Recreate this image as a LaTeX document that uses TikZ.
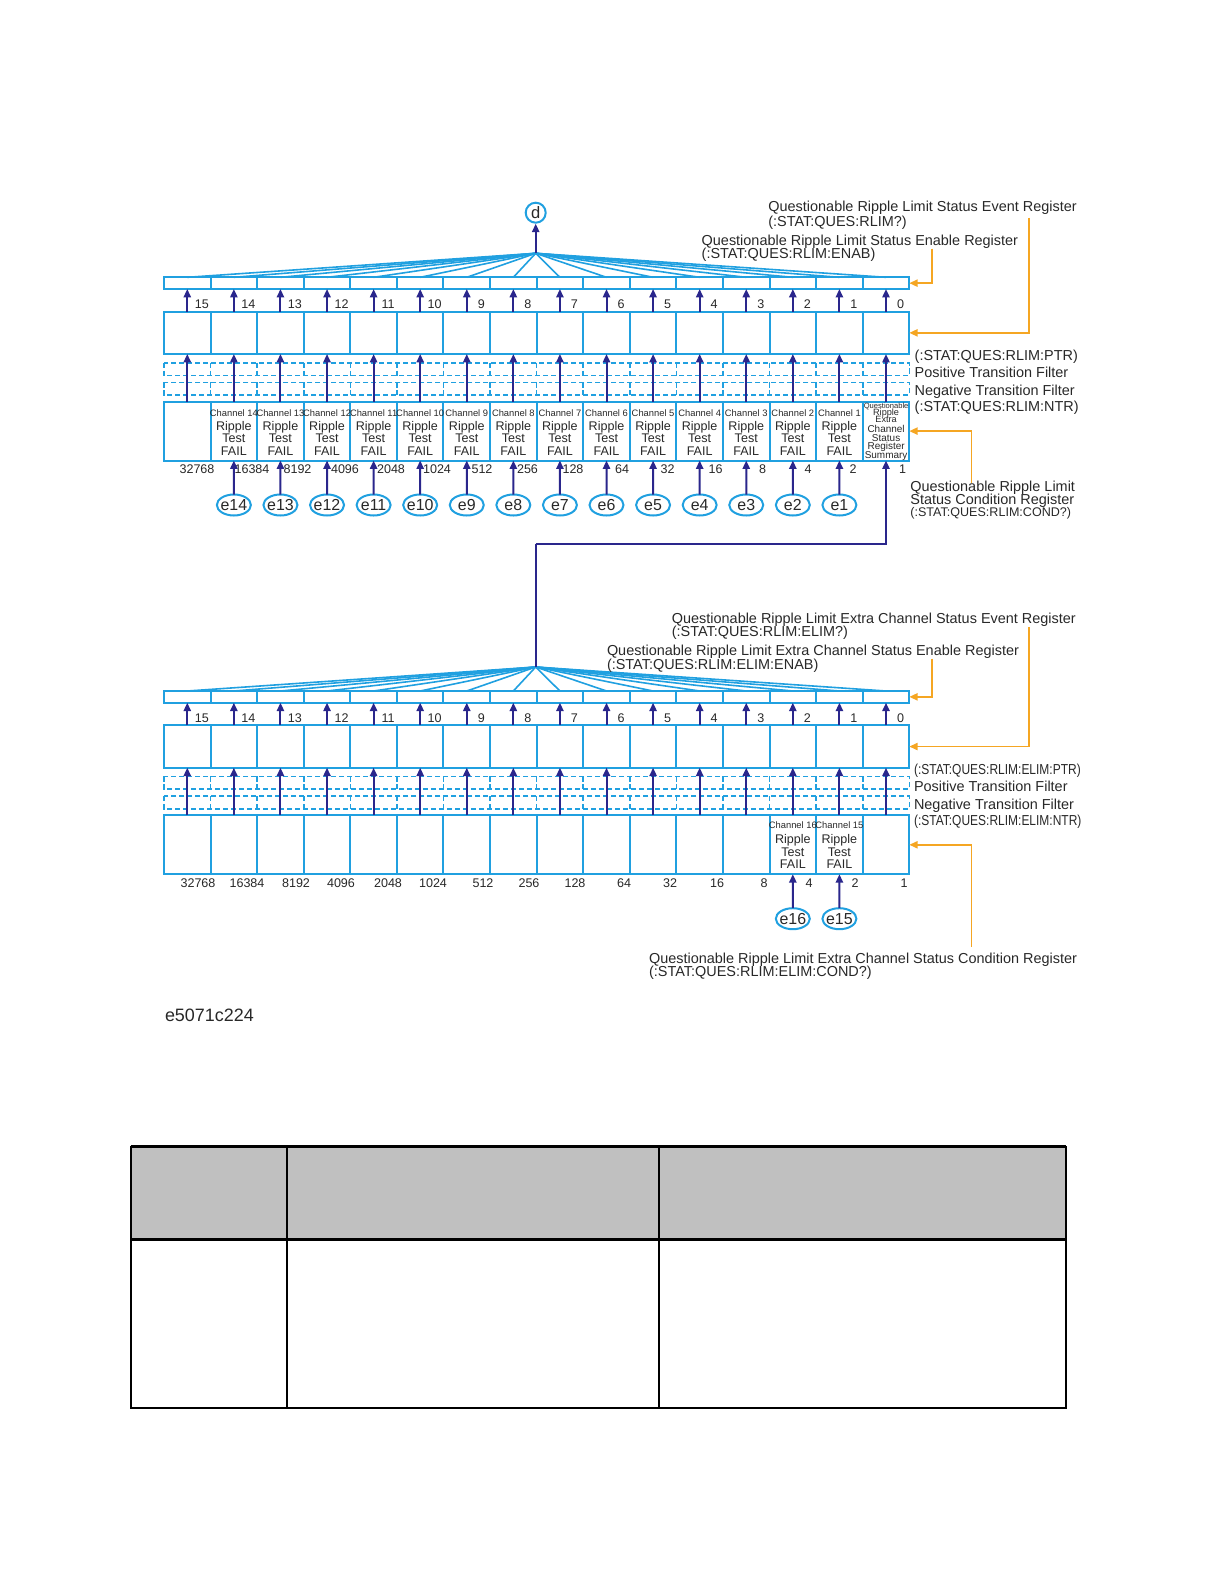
\documentclass[tikz,border=0pt]{standalone}
\usepackage{fontspec}
\setmainfont{Liberation Sans}
\usetikzlibrary{arrows.meta,shapes.geometric}
\definecolor{regblue}{RGB}{32,160,224}
\definecolor{navy}{RGB}{42,38,140}
\definecolor{orng}{RGB}{245,166,35}
\definecolor{txtc}{RGB}{40,40,40}
\definecolor{hdrgray}{RGB}{192,192,192}
\tikzset{
  cell/.style={draw=regblue, line width=1bp, minimum width=23.29bp, minimum height=#1, anchor=north west, inner sep=0pt, outer sep=0pt},
  dashrow/.style={draw=regblue, line width=0.8bp, dash pattern=on 2.6bp off 1.4bp},
  fan/.style={draw=regblue, line width=0.8bp},
  upar/.style={draw=navy, line width=1bp, -{Triangle[length=4.2bp,width=3.6bp]}},
  navyline/.style={draw=navy, line width=1bp},
  orar/.style={draw=orng, line width=0.9bp, -{Triangle[length=4.2bp,width=3.6bp]}},
  reglabel/.style={font=\fontsize{7.25}{7.25}\selectfont, text height=5.2bp, text depth=0pt, anchor=west, inner sep=0pt, text=txtc},
  smalllabel/.style={font=\fontsize{6.3}{6.3}\selectfont, text height=4.5bp, text depth=0pt, inner sep=0pt, text=txtc},
  chanlabel/.style={font=\fontsize{4.7}{4.7}\selectfont, text height=3.4bp, text depth=0pt, inner sep=0pt, text=txtc},
  sumlabel/.style={font=\fontsize{#1}{#1}\selectfont, text height=3bp, text depth=0pt, inner sep=0pt, text=txtc},
  eoval/.style={ellipse, draw=regblue, line width=1bp, minimum width=17bp, minimum height=10.5bp, inner sep=0pt, outer sep=0pt},
  elabel/.style={font=\fontsize{8}{8}\selectfont, text height=5.8bp, text depth=0pt, inner sep=0pt, text=txtc},
}
\newcommand{\regdiagram}[2]{%
  \coordinate (#1-apex) at (535.7,{253.3+#2});
  \draw[dashrow] (164,{362.7+#2}) rectangle (909.3,{375.5+#2});
  \draw[dashrow] (164,{382.3+#2}) rectangle (909.3,{395.2+#2});
  \foreach \i in {1,...,15}{
    \pgfmathsetmacro{\xl}{164+46.58*\i}
    \draw[dashrow] (\xl,{362.7+#2}) -- (\xl,{375.5+#2});
    \draw[dashrow] (\xl,{382.3+#2}) -- (\xl,{395.2+#2});
  }
  \foreach \i in {0,...,15}{
    \pgfmathsetmacro{\xl}{164+46.58*\i}
    \pgfmathtruncatemacro{\bit}{15-\i}
    \node[cell=5.85bp] (#1-en-\i) at (\xl,{277.3+#2}) {};
    \node[cell=21.15bp] (#1-ev-\i) at (\xl,{311.7+#2}) {};
    \node[cell=29.4bp] (#1-co-\i) at (\xl,{401.7+#2}) {};
    \node[smalllabel] (#1-bit-\i) at ({\xl+23.29+14.5},{304+#2}) {\bit};
  }
  \foreach \i in {0,...,15}{
    \draw[fan] (#1-apex) -- (#1-en-\i.north);
    \draw[upar] (#1-ev-\i.north) -- (#1-en-\i.south);
    \draw[upar] (#1-co-\i.north) -- (#1-ev-\i.south);
  }
}
\begin{document}
\begin{tikzpicture}[x=0.5bp,y=-0.5bp]
\useasboundingbox (0,0) rectangle (1224,1584);

% ---------- upper register set ----------
\regdiagram{U}{0}
\node[circle, draw=regblue, line width=1bp, minimum size=10bp, inner sep=0pt,
      font=\fontsize{8.3}{8.3}\selectfont, text=txtc] (d) at (535.7,212.7) {d};
\draw[upar] (U-apex) -- (d.south);

% channel texts upper
\foreach \i in {1,...,14}{
  \pgfmathsetmacro{\xc}{164+46.58*\i+23.29}
  \pgfmathtruncatemacro{\ch}{15-\i}
  \node[chanlabel] (U-ch-\i) at (\xc,413.3) {Channel \ch};
  \node[smalllabel] (U-rp-\i) at (\xc,425.7) {Ripple};
  \node[smalllabel] (U-ts-\i) at (\xc,438.3) {Test};
  \node[smalllabel] (U-fl-\i) at (\xc,451) {FAIL};
}
% summary cell
\foreach \t/\yy/\fs [count=\n] in {Questionable/405.7/3.8, Ripple/412.7/4.6, Extra/419.5/4.6, Channel/429.5/5, Status/438.5/5, Register/446.5/5, Summary/455/5}{
  \node[sumlabel=\fs] (U-sum-\n) at (886.1,\yy) {\t};
}
% values upper
\foreach \v/\vx [count=\n] in {32768/197, 16384/252, 8192/297.5, 4096/345, 2048/391, 1024/437, 512/482, 256/527.5, 128/573, 64/622, 32/667.5, 16/715.5, 8/762.7, 4/808, 2/853, 1/902.5}{
  \node[smalllabel] (U-val-\n) at (\vx,469) {\v};
}
% event ellipses upper
\foreach \k in {1,...,14}{
  \pgfmathtruncatemacro{\ii}{15-\k}
  \pgfmathsetmacro{\xc}{164+46.58*\ii+23.29}
  \node[eoval] (e\k) at (\xc,505) {};
  \node[elabel] (e\k-t) at (e\k) {e\k};
  \draw[upar] (e\k.north) -- (U-co-\ii.south);
}

% labels upper
\node[reglabel] (U-evt1) at (768,206.7) {Questionable Ripple Limit Status Event Register};
\node[reglabel] (U-evt2) at (768,221.2) {(:STAT:QUES:RLIM?)};
\node[reglabel] (U-ent1) at (701.3,240) {Questionable Ripple Limit Status Enable Register};
\node[reglabel] (U-ent2) at (701.3,253.3) {(:STAT:QUES:RLIM:ENAB)};
\node[reglabel] (U-ptr) at (914.3,355) {(:STAT:QUES:RLIM:PTR)};
\node[reglabel] (U-pos) at (914.3,372.3) {Positive Transition Filter};
\node[reglabel] (U-neg) at (914.3,390.7) {Negative Transition Filter};
\node[reglabel] (U-ntr) at (914.3,406.7) {(:STAT:QUES:RLIM:NTR)};
\node[reglabel] (U-cot1) at (910,486.7) {Questionable Ripple Limit};
\node[reglabel] (U-cot2) at (910,498.8) {Status Condition Register};
\node[smalllabel, anchor=west] (U-cot3) at (910,511.7) {(:STAT:QUES:RLIM:COND?)};

% orange connectors upper
\coordinate (U-evsrc) at (1029.3,217.5);
\coordinate (U-ensrc) at (931.8,248.5);
\coordinate (U-cosrc) at (971.5,483);
\draw[orar] (U-evsrc) |- (U-ev-15.east);
\draw[orar] (U-ensrc) |- (U-en-15.east);
\draw[orar] (U-cosrc) |- (U-co-15.east);

% ---------- lower register set ----------
\regdiagram{L}{413.7}
\foreach \i/\ch in {13/16, 14/15}{
  \pgfmathsetmacro{\xc}{164+46.58*\i+23.29}
  \node[chanlabel] (L-ch-\i) at (\xc,825) {Channel \ch};
  \node[smalllabel] (L-rp-\i) at (\xc,838.8) {Ripple};
  \node[smalllabel] (L-ts-\i) at (\xc,851.5) {Test};
  \node[smalllabel] (L-fl-\i) at (\xc,864.3) {FAIL};
}
\foreach \v/\vx [count=\n] in {32768/198, 16384/247, 8192/296, 4096/341, 2048/388, 1024/433, 512/483, 256/529, 128/575, 64/624, 32/670, 16/717, 8/764, 4/809, 2/855, 1/904}{
  \node[smalllabel] (L-val-\n) at (\vx,882.7) {\v};
}
\foreach \k/\ii in {16/13, 15/14}{
  \pgfmathsetmacro{\xc}{164+46.58*\ii+23.29}
  \node[eoval] (e\k) at (\xc,918.7) {};
  \node[elabel] (e\k-t) at (e\k) {e\k};
  \draw[upar] (e\k.north) -- (L-co-\ii.south);
}

\node[reglabel] (L-evt1) at (671.5,618.3) {Questionable Ripple Limit Extra Channel Status Event Register};
\node[reglabel] (L-evt2) at (671.5,631.7) {(:STAT:QUES:RLIM:ELIM?)};
\node[reglabel] (L-ent1) at (606.6,650.7) {Questionable Ripple Limit Extra Channel Status Enable Register};
\node[reglabel] (L-ent2) at (606.6,664) {(:STAT:QUES:RLIM:ELIM:ENAB)};
\node[reglabel] (L-ptr) at (913.6,769.5) {\scalebox{0.83}[1]{(:STAT:QUES:RLIM:ELIM:PTR)}};
\node[reglabel] (L-pos) at (913.6,786) {Positive Transition Filter};
\node[reglabel] (L-neg) at (913.6,804.4) {Negative Transition Filter};
\node[reglabel] (L-ntr) at (913.6,820.5) {\scalebox{0.83}[1]{(:STAT:QUES:RLIM:ELIM:NTR)}};
\node[reglabel] (L-cot1) at (648.7,958.3) {Questionable Ripple Limit Extra Channel Status Condition Register};
\node[reglabel] (L-cot2) at (648.7,971.7) {(:STAT:QUES:RLIM:ELIM:COND?)};

\coordinate (L-evsrc) at (1029.3,627);
\coordinate (L-ensrc) at (931.8,658.5);
\coordinate (L-cosrc) at (971.4,947);
\draw[orar] (L-evsrc) |- (L-ev-15.east);
\draw[orar] (L-ensrc) |- (L-en-15.east);
\draw[orar] (L-cosrc) |- (L-co-15.east);

% link: lower summary to upper bit 0
\coordinate (mid1) at (535.7,544);
\draw[navyline] (L-apex) -- (mid1);
\draw[upar] (mid1) -| (U-co-15.south);

% figure id
\node[font=\fontsize{9}{9}\selectfont, text height=6.5bp, text depth=0pt, inner sep=0pt, anchor=west, text=txtc] (figid) at (164.6,1015) {e5071c224};

% ---------- table ----------
\fill[hdrgray] (130.6,1146.7) rectangle (1066.2,1239.3);
\draw[line width=1bp] (130.6,1146.7) rectangle (1066.2,1408.3);
\draw[line width=1bp] (286.9,1146.7) -- (286.9,1408.3);
\draw[line width=1bp] (658.7,1146.7) -- (658.7,1408.3);
\draw[line width=1.6bp] (130.6,1146.7) -- (1066.2,1146.7);
\draw[line width=1.6bp] (130.6,1239.3) -- (1066.2,1239.3);
\end{tikzpicture}
\end{document}
